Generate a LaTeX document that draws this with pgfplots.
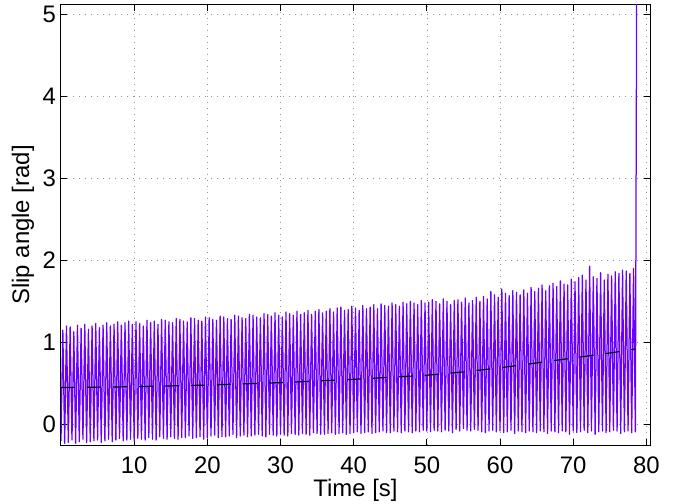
\documentclass[border=0pt]{standalone}
\usepackage{fontspec}
\setmainfont{Liberation Sans}
\usepackage{pgfplots}
\pgfplotsset{compat=1.18}
\usetikzlibrary{calc}
\definecolor{slip}{RGB}{105,0,255}
\newcommand{\bigfont}{\fontsize{24}{28}\selectfont}
\begin{document}
\begin{tikzpicture}
\begin{axis}[
  scale only axis,
  width=589bp, height=440bp,
  xmin=0, xmax=80.5, ymin=-0.25, ymax=5.11,
  xtick={10,20,30,40,50,60,70,80},
  ytick={0,1,2,3,4,5},
  tick align=inside,
  major tick length=6bp,
  minor tick num=0,
  grid=major,
  major grid style={gray!85, line width=0.6bp, dash pattern=on 1bp off 5bp},
  axis line style={line width=1bp, black},
  every tick/.style={black, line width=0.8bp},
  /pgf/number format/assume math mode=true,
  tick label style={font=\bigfont},
  label style={font=\bigfont},
  xlabel={Time [s]},
  ylabel={Slip angle [rad]},
  xlabel style={at={(axis description cs:0.5,-0.1023)}, anchor=center},
  ylabel style={at={(axis description cs:-0.0645,0.5)}, anchor=center},
  yticklabel style={anchor=east, inner sep=0pt, xshift=-5bp},
  xticklabel style={anchor=center, inner sep=0pt, yshift=-20bp},
  clip=true,
]
\addplot[slip, line width=1.25bp, line join=round] coordinates {
(0,-0.20)(0.25,1.15)(0.5,-0.23)(0.75,1.20)
(1,-0.22)(1.25,1.19)(1.5,-0.19)(1.75,1.13)
(2,-0.23)(2.25,1.21)(2.5,-0.21)(2.75,1.17)
(3,-0.18)(3.25,1.22)(3.5,-0.22)(3.75,1.16)
(4,-0.21)(4.25,1.20)(4.5,-0.20)(4.75,1.23)
(5,-0.19)(5.25,1.18)(5.5,-0.22)(5.75,1.21)
(6,-0.20)(6.25,1.24)(6.5,-0.18)(6.75,1.20)
(7,-0.21)(7.25,1.22)(7.5,-0.19)(7.75,1.25)
(8,-0.17)(8.25,1.21)(8.5,-0.20)(8.75,1.24)
(9,-0.19)(9.25,1.26)(9.5,-0.18)(9.75,1.22)
(10,-0.20)(10.25,1.25)(10.5,-0.17)(10.75,1.23)
(11,-0.18)(11.25,1.20)(11.5,-0.19)(11.75,1.27)
(12,-0.16)(12.25,1.24)(12.5,-0.18)(12.75,1.26)
(13,-0.19)(13.25,1.22)(13.5,-0.15)(13.75,1.28)
(14,-0.17)(14.25,1.27)(14.5,-0.18)(14.75,1.25)
(15,-0.15)(15.25,1.24)(15.5,-0.17)(15.75,1.29)
(16,-0.18)(16.25,1.28)(16.5,-0.16)(16.75,1.26)
(17,-0.16)(17.25,1.25)(17.5,-0.14)(17.75,1.30)
(18,-0.17)(18.25,1.29)(18.5,-0.16)(18.75,1.27)
(19,-0.15)(19.25,1.26)(19.5,-0.18)(19.75,1.31)
(20,-0.16)(20.25,1.30)(20.5,-0.14)(20.75,1.28)
(21,-0.13)(21.25,1.27)(21.5,-0.16)(21.75,1.32)
(22,-0.15)(22.25,1.31)(22.5,-0.15)(22.75,1.29)
(23,-0.14)(23.25,1.28)(23.5,-0.12)(23.75,1.33)
(24,-0.16)(24.25,1.32)(24.5,-0.14)(24.75,1.30)
(25,-0.13)(25.25,1.29)(25.5,-0.15)(25.75,1.34)
(26,-0.14)(26.25,1.33)(26.5,-0.13)(26.75,1.31)
(27,-0.12)(27.25,1.30)(27.5,-0.14)(27.75,1.35)
(28,-0.15)(28.25,1.34)(28.5,-0.12)(28.75,1.32)
(29,-0.13)(29.25,1.36)(29.5,-0.14)(29.75,1.33)
(30,-0.12)(30.25,1.31)(30.5,-0.13)(30.75,1.37)
(31,-0.14)(31.25,1.35)(31.5,-0.11)(31.75,1.33)
(32,-0.12)(32.25,1.38)(32.5,-0.13)(32.75,1.34)
(33,-0.11)(33.25,1.36)(33.5,-0.12)(33.75,1.39)
(34,-0.13)(34.25,1.34)(34.5,-0.10)(34.75,1.38)
(35,-0.11)(35.25,1.40)(35.5,-0.12)(35.75,1.36)
(36,-0.12)(36.25,1.38)(36.5,-0.11)(36.75,1.41)
(37,-0.10)(37.25,1.37)(37.5,-0.12)(37.75,1.42)
(38,-0.11)(38.25,1.43)(38.5,-0.10)(38.75,1.39)
(39,-0.12)(39.25,1.40)(39.5,-0.11)(39.75,1.44)
(40,-0.10)(40.25,1.42)(40.5,-0.09)(40.75,1.39)
(41,-0.11)(41.25,1.45)(41.5,-0.10)(41.75,1.41)
(42,-0.09)(42.25,1.43)(42.5,-0.11)(42.75,1.46)
(43,-0.10)(43.25,1.41)(43.5,-0.09)(43.75,1.47)
(44,-0.08)(44.25,1.45)(44.5,-0.10)(44.75,1.44)
(45,-0.10)(45.25,1.48)(45.5,-0.08)(45.75,1.46)
(46,-0.09)(46.25,1.44)(46.5,-0.10)(46.75,1.49)
(47,-0.08)(47.25,1.47)(47.5,-0.09)(47.75,1.50)
(48,-0.10)(48.25,1.48)(48.5,-0.08)(48.75,1.46)
(49,-0.09)(49.25,1.51)(49.5,-0.07)(49.75,1.48)
(50,-0.08)(50.25,1.49)(50.5,-0.09)(50.75,1.52)
(51,-0.07)(51.25,1.50)(51.5,-0.08)(51.75,1.47)
(52,-0.09)(52.25,1.53)(52.5,-0.07)(52.75,1.50)
(53,-0.08)(53.25,1.46)(53.5,-0.10)(53.75,1.51)
(54,-0.06)(54.25,1.52)(54.5,-0.08)(54.75,1.49)
(55,-0.05)(55.25,1.54)(55.5,-0.07)(55.75,1.48)
(56,-0.08)(56.25,1.51)(56.5,-0.06)(56.75,1.55)
(57,-0.07)(57.25,1.50)(57.5,-0.09)(57.75,1.56)
(58,-0.10)(58.25,1.53)(58.5,-0.08)(58.75,1.62)
(59,-0.07)(59.25,1.58)(59.5,-0.09)(59.75,1.55)
(60,-0.08)(60.25,1.65)(60.5,-0.10)(60.75,1.60)
(61,-0.09)(61.25,1.57)(61.5,-0.07)(61.75,1.63)
(62,-0.11)(62.25,1.61)(62.5,-0.08)(62.75,1.58)
(63,-0.09)(63.25,1.64)(63.5,-0.10)(63.75,1.60)
(64,-0.08)(64.25,1.67)(64.5,-0.09)(64.75,1.62)
(65,-0.10)(65.25,1.66)(65.5,-0.08)(65.75,1.70)
(66,-0.09)(66.25,1.63)(66.5,-0.11)(66.75,1.69)
(67,-0.08)(67.25,1.72)(67.5,-0.09)(67.75,1.68)
(68,-0.10)(68.25,1.75)(68.5,-0.08)(68.75,1.71)
(69,-0.09)(69.25,1.70)(69.5,-0.12)(69.75,1.77)
(70,-0.08)(70.25,1.74)(70.5,-0.10)(70.75,1.79)
(71,-0.09)(71.25,1.82)(71.5,-0.07)(71.75,1.76)
(72,-0.10)(72.25,1.93)(72.5,-0.08)(72.75,1.80)
(73,-0.12)(73.25,1.78)(73.5,-0.09)(73.75,1.85)
(74,-0.08)(74.25,1.76)(74.5,-0.10)(74.75,1.83)
(75,-0.09)(75.25,1.81)(75.5,-0.07)(75.75,1.86)
(76,-0.08)(76.25,1.84)(76.5,-0.11)(76.75,1.88)
(77,-0.09)(77.25,1.87)(77.5,-0.08)(77.75,1.84)
(78,-0.10)(78.25,1.90)(78.5,-0.09)(78.7,6.00)
};
\addplot[black, line width=1.2bp, dash pattern=on 14bp off 12bp] coordinates {
(0,0.45)(10,0.46)(20,0.48)(30,0.51)(40,0.55)(50,0.60)(55,0.64)(60,0.69)(65,0.75)(70,0.81)(75,0.87)(78.5,0.92)
};
\end{axis}
\pgfresetboundingbox
\useasboundingbox ($(current axis.south west)+(-61bp,-59bp)$) rectangle ($(current axis.north east)+(36bp,5bp)$);
\end{tikzpicture}
\end{document}
